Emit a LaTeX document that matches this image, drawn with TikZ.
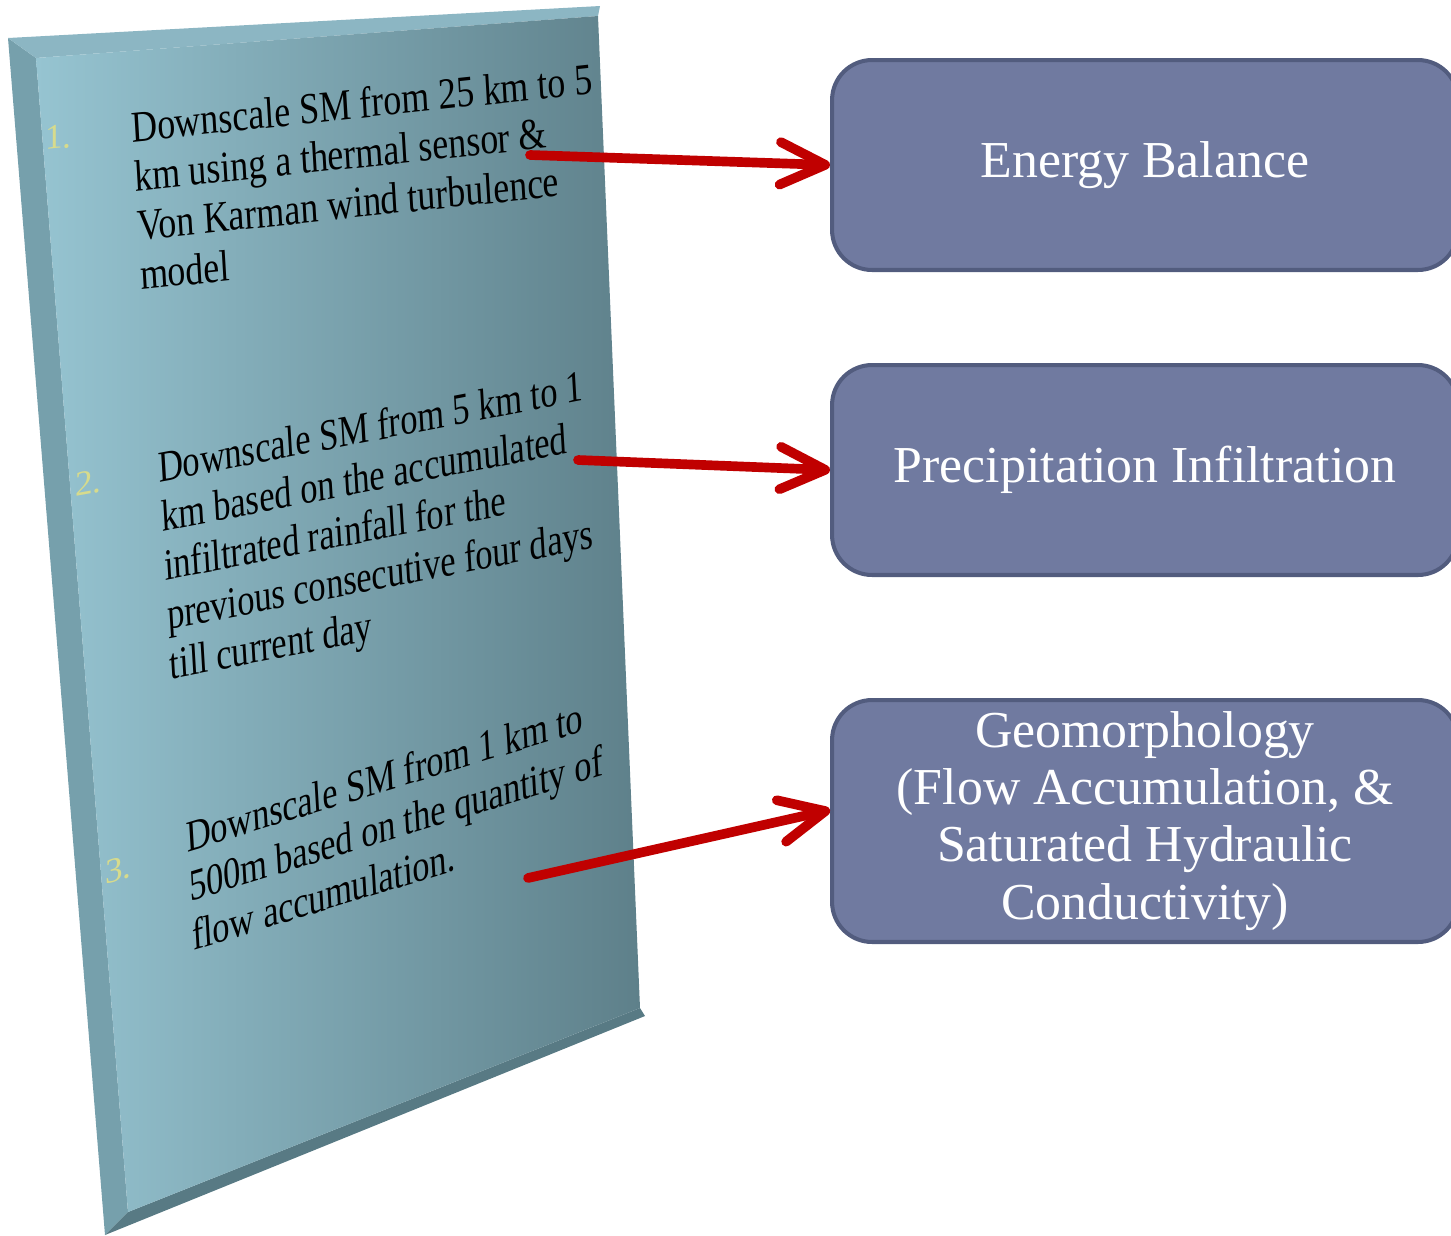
\documentclass[tikz,border=0pt]{standalone}
\usepackage{fontspec}
\setmainfont{Liberation Serif}
\usetikzlibrary{arrows.meta}
\definecolor{faceleft}{RGB}{150,196,209}
\definecolor{faceright}{RGB}{94,128,138}
\definecolor{bevelleft}{RGB}{118,160,172}
\definecolor{beveltop}{RGB}{140,182,195}
\definecolor{bevelbottom}{RGB}{88,122,132}
\definecolor{boxfill}{RGB}{112,122,160}
\definecolor{boxline}{RGB}{82,92,126}
\definecolor{arrowred}{RGB}{192,0,0}
\definecolor{numyellow}{RGB}{215,219,140}

\begin{document}
\begin{tikzpicture}[x=0.02cm,y=-0.02cm,line cap=round,line join=round,
    box/.style={draw=boxline,fill=boxfill,line width=2.3pt,rounded corners=0.8cm,
        minimum width=12.52cm,minimum height=4.2cm,align=center,text=white,
        font=\fontsize{29.5}{32.5}\selectfont},
    redarrow/.style={draw=arrowred,line width=5.5pt,
        -{Straight Barb[length=0.9cm,width=0.85cm,round]}},
    slabtext/.style={anchor=north west,inner sep=0pt,align=left,xslant=-0.06,
        font=\fontsize{25}{28}\selectfont},
    slabnum/.style={anchor=base west,inner sep=0pt,text=numyellow,
        font=\fontsize{20}{24}\selectfont}]

    \clip (0,0) rectangle (1451,1235);

    % the slab
    \fill [bevelleft] (8,38) -- (36,58) -- (128,1212) -- (105,1235) -- cycle;
    \fill [beveltop] (8,38) -- (600,6) -- (598,16) -- (36,58) -- cycle;
    \fill [bevelbottom] (105,1235) -- (128,1212) -- (640,1008) -- (645,1016) -- cycle;
    \shade [left color=faceleft,right color=faceright]
        (36,58) -- (598,16) -- (640,1008) -- (128,1212) -- cycle;

    \node [slabnum,yslant=0.1] (n1) at (45,150) {1.};
    \node [slabnum,yslant=0.18] (n2) at (75,497) {2.};
    \node [slabnum,yslant=0.28] (n3) at (105,885) {3.};

    \node [slabtext,yslant=0.105,xscale=0.82] (s1) at (130,111)
        {Downscale SM from 25 km to 5\\km using a thermal sensor \&\\Von Karman wind turbulence\\model};
    \node [slabtext,yslant=0.19,xscale=0.79] (s2) at (157,451)
        {Downscale SM from 5 km to 1\\km based on the accumulated\\infiltrated rainfall for the\\previous consecutive four days\\till current day};
    \node [slabtext,yslant=0.3,xscale=0.79] (s3) at (185,821)
        {Downscale SM from 1 km to\\500m based on the quantity of\\flow accumulation.};

    % the three boxes
    \node [box] (energy) at (1145,165) {Energy Balance};
    \node [box] (precip) at (1145,470) {Precipitation Infiltration};
    \node [box,minimum height=4.84cm] (geo) at (1145,821)
        {Geomorphology\\(Flow Accumulation, \&\\Saturated Hydraulic\\Conductivity)};

    \coordinate (t1) at (530,155);
    \coordinate (t2) at (578,460);
    \coordinate (t3) at (528,878);
    \draw [redarrow] (t1) -- (energy.west);
    \draw [redarrow] (t2) -- (precip.west);
    \draw [redarrow] (t3) -- ([yshift=0.22cm]geo.west);
\end{tikzpicture}
\end{document}
